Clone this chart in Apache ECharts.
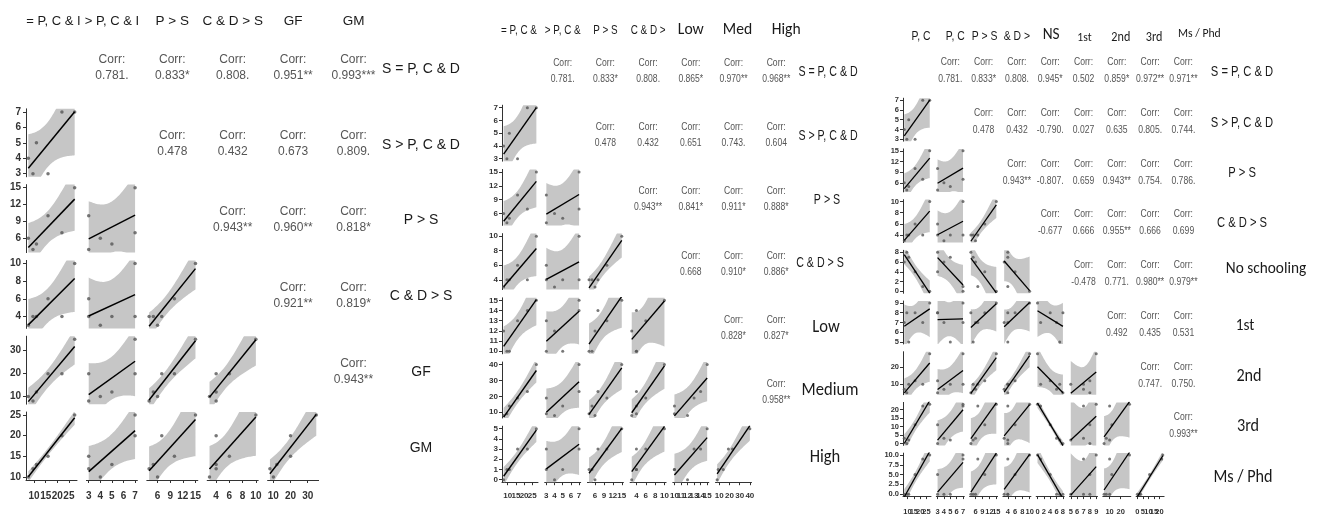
<!DOCTYPE html>
<html>
<head>
<meta charset="utf-8">
<script src="https://cdn.jsdelivr.net/npm/echarts@6/dist/echarts.min.js"></script>
<style>
  html, body { margin: 0; padding: 0; background: #fff; }
  #chart { width: 1324px; height: 518px; }
</style>
</head>
<body>
<div id="chart"></div>
<script>
// ---- Observations: six sites, one array per indicator ----
const sEqPCD   = [7.5, 9.5, 11, 16, 22, 27.5];
const sGtPCD   = [4, 3, 5, 3, 7, 7];
const pGtS     = [6, 4, 5, 10, 7, 15];
const cdGtS    = [3, 4, 4, 6, 4, 10];
const gf       = [10, 8, 12, 20, 20, 35];
const gm       = [10, 12, 13, 15, 20, 25];
const low      = [12, 10, 10, 13, 14, 15];
const medium   = [8, 9, 14, 19, 23, 40];
const high     = [0, 1, 1, 3, 3, 5];
const noSchool = [6, 8, 7, 4, 1, 0];
const first    = [7, 8, 5, 8, 7, 9];
const second   = [7, 5, 10, 12, 10, 28];
const third    = [3, 0, 2, 11, 22, 23];
const msPhd    = [0, 0, 0, 5, 9, 10];

// ---- Axis tick labels per indicator ----
const ticksSEqPCD   = [10, 15, 20, 25];
const ticksSGtPCD   = [3, 4, 5, 6, 7];
const ticksPGtS     = [6, 9, 12, 15];
const ticksCdGtS    = [4, 6, 8, 10];
const ticksGf       = [10, 20, 30];
const ticksGm       = [10, 15, 20, 25];
const ticksLow      = [10, 11, 12, 13, 14, 15];
const ticksMedium   = [10, 20, 30, 40];
const ticksHigh     = [0, 1, 2, 3, 4, 5];
const ticksNoSchool = [0, 2, 4, 6, 8];
const ticksFirst    = [5, 6, 7, 8, 9];
const ticksSecond   = [10, 20];
const ticksThird    = [0, 5, 10, 15, 20];
const ticksMsPhd    = [0, 2.5, 5, 7.5, 10];

// ---- Matrix 1: gender ----
const panel1Vars  = ['sEqPCD', 'sGtPCD', 'pGtS', 'cdGtS', 'gf', 'gm'];
const panel1Heads = ['= P, C & I', '> P, C & I', 'P > S', 'C & D > S', 'GF', 'GM'];
const panel1Rows  = ['S = P, C & D', 'S > P, C & D', 'P > S', 'C & D > S', 'GF', 'GM'];
const panel1Corr  = [
  ['0.781.', '0.833*', '0.808.', '0.951**', '0.993***'],
  ['0.478', '0.432', '0.673', '0.809.'],
  ['0.943**', '0.960**', '0.818*'],
  ['0.921**', '0.819*'],
  ['0.943**']
];

// ---- Matrix 2: income ----
const panel2Vars  = ['sEqPCD', 'sGtPCD', 'pGtS', 'cdGtS', 'low', 'medium', 'high'];
const panel2Heads = ['= P, C &', '> P, C &', 'P > S', 'C & D >', 'Low', 'Med', 'High'];
const panel2Rows  = ['S = P, C & D', 'S > P, C & D', 'P > S', 'C & D > S', 'Low', 'Medium', 'High'];
const panel2Corr  = [
  ['0.781.', '0.833*', '0.808.', '0.865*', '0.970**', '0.968**'],
  ['0.478', '0.432', '0.651', '0.743.', '0.604'],
  ['0.943**', '0.841*', '0.911*', '0.888*'],
  ['0.668', '0.910*', '0.886*'],
  ['0.828*', '0.827*'],
  ['0.958**']
];

// ---- Matrix 3: education ----
const panel3Vars  = ['sEqPCD', 'sGtPCD', 'pGtS', 'cdGtS', 'noSchool', 'first', 'second', 'third', 'msPhd'];
const panel3Heads = ['P, C', 'P, C', 'P > S', '& D >', 'NS', '1st', '2nd', '3rd', 'Ms / Phd'];
const panel3Rows  = ['S = P, C & D', 'S > P, C & D', 'P > S', 'C & D > S', 'No schooling', '1st', '2nd', '3rd', 'Ms / Phd'];
const panel3Corr  = [
  ['0.781.', '0.833*', '0.808.', '0.945*', '0.502', '0.859*', '0.972**', '0.971**'],
  ['0.478', '0.432', '-0.790.', '0.027', '0.635', '0.805.', '0.744.'],
  ['0.943**', '-0.807.', '0.659', '0.943**', '0.754.', '0.786.'],
  ['-0.677', '0.666', '0.955**', '0.666', '0.699'],
  ['-0.478', '0.771.', '0.980**', '0.979**'],
  ['0.492', '0.435', '0.531'],
  ['0.747.', '0.750.'],
  ['0.993**']
];

const indicators = {
  sEqPCD:   { values: sEqPCD,   ticks: ticksSEqPCD },
  sGtPCD:   { values: sGtPCD,   ticks: ticksSGtPCD },
  pGtS:     { values: pGtS,     ticks: ticksPGtS },
  cdGtS:    { values: cdGtS,    ticks: ticksCdGtS },
  gf:       { values: gf,       ticks: ticksGf },
  gm:       { values: gm,       ticks: ticksGm },
  low:      { values: low,      ticks: ticksLow },
  medium:   { values: medium,   ticks: ticksMedium },
  high:     { values: high,     ticks: ticksHigh },
  noSchool: { values: noSchool, ticks: ticksNoSchool },
  first:    { values: first,    ticks: ticksFirst },
  second:   { values: second,   ticks: ticksSecond },
  third:    { values: third,    ticks: ticksThird },
  msPhd:    { values: msPhd,    ticks: ticksMsPhd }
};

// ---- Fonts ----
const ARIAL   = '"Liberation Sans", Arial, sans-serif';
const NARROW  = '"Liberation Sans Narrow", "Liberation Sans", Arial, sans-serif';
const CALIBRI = 'Carlito, Calibri, Lato, "Open Sans", sans-serif';

// ---- Layout of each matrix ----
const layout1 = {
  left: 26, top: 33, colPitch: 60.4, rowPitch: 75.8, cellW: 51, cellH: 68,
  tickSize: 10, tickFamily: ARIAL, xMargin: 11, yMargin: 5,
  pointSize: 3.5, lineWidth: 1.5,
  corrSize: 12, corrScale: 1, corrDy: [-7, 9],
  textScale: 1, pastedFrom: 99, pastedScale: 1,
  headY: 21, headSize: [13, 13, 13.5, 13.5, 13.5, 13.5], headDx: [2, 0, 0, 0, 0, 0], headDy: [],
  rowX: 421, rowSize: [14, 14, 14, 14, 14, 14], rowDx: [], rowDy: [2, 2, 2, 2, 2, 2]
};
const layout2 = {
  left: 502, top: 41, colPitch: 42.7, rowPitch: 64.2, cellW: 36, cellH: 56,
  tickSize: 8, tickFamily: NARROW, xMargin: 10, yMargin: 4,
  pointSize: 3, lineWidth: 1.4,
  corrSize: 11, corrScale: 0.78, corrDy: [-6, 10],
  textScale: 0.76, pastedFrom: 4, pastedScale: 0.92,
  headY: 30, headSize: [13, 13, 13, 13, 17, 17, 17], headDx: [-1, 0, 0, 0, 0, 4, 10], headDy: [],
  rowX: 826, rowSize: [14, 14, 14, 14, 18, 18, 18], rowDx: [2, 2, 1, -6, 0, 4, -1], rowDy: [3, 3, 3, 2, 2, 0, 3]
};
const layout3 = {
  left: 903, top: 47.5, colPitch: 33.3, rowPitch: 50.7, cellW: 28, cellH: 43,
  tickSize: 7.5, tickFamily: NARROW, xMargin: 12, yMargin: 4,
  pointSize: 3, lineWidth: 1.3,
  corrSize: 10.5, corrScale: 0.82, corrDy: [-6.5, 10.5],
  textScale: 0.8, pastedFrom: 4, pastedScale: 0.9,
  headY: 36, headSize: [13, 13, 13, 13, 17, 13, 13.5, 13.5, 13], headDx: [4, 5, 1, 0, 1, 1, 4, 4, 16], headDy: [0, 0, 0, 0, -1, 2, 2, 2, -2],
  rowX: 1242, rowSize: [14, 14, 14, 14, 17, 17, 18, 18, 18], rowDx: [0, 0, 0, 0, 24, 3, 7, 6, 1], rowDy: [3, 3, 3, 2, -3, 3, 3, 3, 3]
};

// Student t quantile (97.5%) for n - 2 = 4 degrees of freedom
const T975_DF4 = 2.776;

// Least-squares line with its 95% confidence band, like geom_smooth(method = "lm")
function linearFit(xs, ys, steps) {
  const n = xs.length;
  const mx = xs.reduce((a, b) => a + b, 0) / n;
  const my = ys.reduce((a, b) => a + b, 0) / n;
  let sxx = 0, sxy = 0;
  for (let i = 0; i < n; i++) { sxx += (xs[i] - mx) ** 2; sxy += (xs[i] - mx) * (ys[i] - my); }
  const b = sxy / sxx, a = my - b * mx;
  let rss = 0;
  for (let i = 0; i < n; i++) rss += (ys[i] - a - b * xs[i]) ** 2;
  const s = Math.sqrt(rss / (n - 2));
  const x0 = Math.min(...xs), x1 = Math.max(...xs);
  const upper = [], lower = [];
  for (let k = 0; k <= steps; k++) {
    const x = x0 + (x1 - x0) * k / steps;
    const yh = a + b * x;
    const half = T975_DF4 * s * Math.sqrt(1 / n + (x - mx) ** 2 / sxx);
    upper.push([x, yh + half]);
    lower.push([x, yh - half]);
  }
  // closed outline: along the upper edge, back along the lower edge
  return { line: [[x0, a + b * x0], [x1, a + b * x1]], polygon: upper.concat(lower.reverse()) };
}

function paddedRange(values) {
  const lo = Math.min(...values), hi = Math.max(...values);
  const pad = (hi - lo) * 0.05;
  return [lo - pad, hi + pad];
}

function tickFormatter(ticks) {
  const decimals = ticks.some(t => t % 1 !== 0) ? 1 : 0;
  return v => Number(v).toFixed(decimals);
}

function textEl(x, y, s, size, family, color, sx) {
  return {
    type: 'text', x: x, y: y, scaleX: sx, scaleY: 1, silent: true, z: 100,
    style: {
      text: s, fontSize: size, fontFamily: family, fill: color,
      textAlign: 'center', textVerticalAlign: 'middle', align: 'center', verticalAlign: 'middle'
    }
  };
}

const option = { animation: false, grid: [], xAxis: [], yAxis: [], series: [], graphic: [] };

// Bottom x axis of a panel; `labelTicks` is the subset of ticks this axis labels.
// Crowded labels are split over two coincident axes so none of them gets dropped.
function bottomAxis(g, range, ticks, labelTicks, withLine, L) {
  option.xAxis.push({
    type: 'value', gridIndex: g, position: 'bottom', min: range[0], max: range[1],
    splitLine: { show: false },
    axisLine: { show: withLine, onZero: false, lineStyle: { color: '#333', width: 1 } },
    axisTick: { show: withLine, length: 3, customValues: ticks, lineStyle: { color: '#333' } },
    axisLabel: {
      customValues: labelTicks, formatter: tickFormatter(ticks),
      showMinLabel: true, showMaxLabel: true, hideOverlap: false,
      fontSize: L.tickSize, fontFamily: L.tickFamily, fontWeight: 'bold', color: '#333', margin: L.xMargin
    }
  });
  return option.xAxis.length - 1;
}

function addMatrix(varKeys, heads, rows, corr, L) {
  const n = varKeys.length;
  const vars = varKeys.map(k => indicators[k]);
  const colLeft = j => L.left + j * L.colPitch;
  const rowTop = i => L.top + i * L.rowPitch;

  heads.forEach((h, j) => {
    const pasted = j >= L.pastedFrom;
    option.graphic.push(textEl(
      colLeft(j) + L.cellW / 2 + (L.headDx[j] || 0),
      L.headY + (L.headDy[j] || 0),
      h, L.headSize[j], pasted ? CALIBRI : ARIAL, '#1a1a1a',
      pasted ? L.pastedScale : L.textScale));
  });

  rows.forEach((r, i) => {
    const pasted = i >= L.pastedFrom;
    option.graphic.push(textEl(
      L.rowX + (L.rowDx[i] || 0),
      rowTop(i) + L.cellH / 2 + (L.rowDy[i] || 0),
      r, L.rowSize[i], pasted ? CALIBRI : ARIAL, '#1a1a1a',
      pasted ? L.pastedScale : L.textScale));
  });

  corr.forEach((rowVals, i) => {
    rowVals.forEach((val, k) => {
      const j = i + 1 + k;
      const cx = colLeft(j) + L.cellW / 2;
      const cy = rowTop(i) + L.cellH / 2;
      option.graphic.push(textEl(cx, cy + L.corrDy[0], 'Corr:', L.corrSize, ARIAL, '#555', L.corrScale));
      option.graphic.push(textEl(cx, cy + L.corrDy[1], val, L.corrSize, ARIAL, '#555', L.corrScale));
    });
  });

  for (let i = 1; i < n; i++) {
    for (let j = 0; j < i; j++) {
      const g = option.grid.length;
      const xv = vars[j], yv = vars[i];
      const xr = paddedRange(xv.values), yr = paddedRange(yv.values);
      const isBottom = i === n - 1, isLeft = j === 0;

      option.grid.push({ left: colLeft(j), top: rowTop(i), width: L.cellW, height: L.cellH });

      let xi;
      if (isBottom) {
        xi = bottomAxis(g, xr, xv.ticks, xv.ticks.filter((t, k) => k % 2 === 0), true, L);
        bottomAxis(g, xr, xv.ticks, xv.ticks.filter((t, k) => k % 2 === 1), false, L);
      } else {
        option.xAxis.push({ type: 'value', gridIndex: g, min: xr[0], max: xr[1], show: false, splitLine: { show: false } });
        xi = option.xAxis.length - 1;
      }

      option.yAxis.push({
        type: 'value', gridIndex: g, min: yr[0], max: yr[1], show: isLeft,
        splitLine: { show: false },
        axisLine: { show: isLeft, onZero: false, lineStyle: { color: '#333', width: 1 } },
        axisTick: { show: isLeft, length: 3, customValues: yv.ticks, lineStyle: { color: '#333' } },
        axisLabel: {
          show: isLeft, customValues: yv.ticks, formatter: tickFormatter(yv.ticks),
          showMinLabel: true, showMaxLabel: true, hideOverlap: false,
          fontSize: L.tickSize, fontFamily: L.tickFamily, fontWeight: 'bold', color: '#333', margin: L.yMargin
        }
      });
      const yi = option.yAxis.length - 1;

      const fit = linearFit(xv.values, yv.values, 40);
      const outline = fit.polygon;
      option.series.push({
        type: 'custom', xAxisIndex: xi, yAxisIndex: yi, coordinateSystem: 'cartesian2d',
        data: outline, clip: true, silent: true, z: 1,
        renderItem: function (params, api) {
          if (params.dataIndex !== 0) return null;
          return {
            type: 'polygon',
            shape: { points: outline.map(p => api.coord(p)) },
            style: { fill: '#c6c6c6', stroke: null }
          };
        }
      });
      option.series.push({
        type: 'scatter', xAxisIndex: xi, yAxisIndex: yi,
        data: xv.values.map((x, k) => [x, yv.values[k]]),
        symbolSize: L.pointSize, itemStyle: { color: '#555' }, silent: true, z: 2
      });
      option.series.push({
        type: 'line', xAxisIndex: xi, yAxisIndex: yi, data: fit.line, symbol: 'none', silent: true, clip: true,
        lineStyle: { color: '#000', width: L.lineWidth }, z: 3
      });
    }
  }
}

addMatrix(panel1Vars, panel1Heads, panel1Rows, panel1Corr, layout1);
addMatrix(panel2Vars, panel2Heads, panel2Rows, panel2Corr, layout2);
addMatrix(panel3Vars, panel3Heads, panel3Rows, panel3Corr, layout3);

const chart = echarts.init(document.getElementById('chart'), null, { renderer: 'canvas' });
chart.setOption(option);
</script>
</body>
</html>
